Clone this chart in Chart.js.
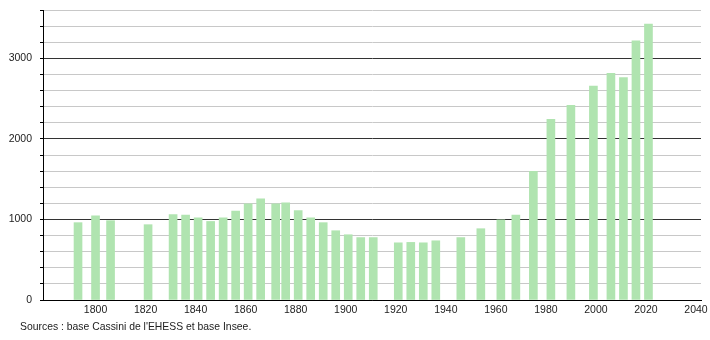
<!DOCTYPE html>
<html>
<head>
<meta charset="utf-8">
<script src="https://cdn.jsdelivr.net/npm/chart.js@4"></script>
<style>
  body { margin: 0; background: #fff; }
  #wrap { position: relative; width: 710px; height: 340px; }
  #source { position: absolute; left: 20px; top: 321px; font: 10.4px "Liberation Sans", Arial, sans-serif; color: #222; }
</style>
</head>
<body>
<div id="wrap">
  <canvas id="myChart" width="710" height="340"></canvas>
  <div id="source">Sources : base Cassini de l'EHESS et base Insee.</div>
</div>
<script>
// census years and population
var years = [1793, 1800, 1806, 1821, 1831, 1836, 1841, 1846, 1851, 1856, 1861, 1866, 1872, 1876, 1881, 1886, 1891, 1896, 1901, 1906, 1911, 1921, 1926, 1931, 1936, 1946, 1954, 1962, 1968, 1975, 1982, 1990, 1999, 2006, 2011, 2016, 2021];
var population = [960, 1045, 985, 935, 1060, 1055, 1020, 975, 1020, 1105, 1195, 1255, 1195, 1205, 1110, 1020, 960, 860, 810, 775, 775, 710, 715, 710, 735, 775, 885, 995, 1055, 1597, 2242, 2416, 2656, 2814, 2760, 3217, 3425];
var xTickLabels = [1800, 1820, 1840, 1860, 1880, 1900, 1920, 1940, 1960, 1980, 2000, 2020, 2040];
var yTickLabels = [0, 1000, 2000, 3000];

var points = years.map(function(y, i) {
    return { x: y, y: population[i] };
});

var font = { family: '"Liberation Sans", Arial, sans-serif', size: 10.5 };

var ctx = document.getElementById('myChart').getContext('2d');
var myChart = new Chart(ctx, {
    type: 'bar',
    data: {
        datasets: [{
            data: points,
            backgroundColor: '#b0e4b0',
            borderWidth: 0,
            barThickness: 8
        }]
    },
    options: {
        responsive: false,
        animation: false,
        layout: { autoPadding: false, padding: { top: 10, right: 9, left: 0, bottom: 0 } },
        plugins: { legend: { display: false }, tooltip: { enabled: false } },
        scales: {
            x: {
                type: 'linear',
                min: 1779,
                max: 2042,
                offset: false,
                grid: { display: false, drawTicks: false, offset: false },
                border: { color: '#000', width: 1 },
                ticks: {
                    stepSize: 20,
                    includeBounds: false,
                    autoSkip: false,
                    maxRotation: 0,
                    padding: 4,
                    color: '#222',
                    font: font,
                    callback: function(v) {
                        return xTickLabels.indexOf(v) >= 0 ? String(v) : '';
                    }
                },
                afterFit: function(scale) {
                    scale.height = 40;
                    scale.paddingLeft = 0;
                    scale.paddingRight = 0;
                }
            },
            y: {
                min: 0,
                max: 3600,
                grid: {
                    color: function(c) {
                        return c.tick && c.tick.value % 1000 === 0 ? '#333' : '#c8c8c8';
                    },
                    tickColor: '#000',
                    tickLength: 3,
                    lineWidth: 1
                },
                border: { color: '#000', width: 1 },
                ticks: {
                    stepSize: 200,
                    autoSkip: false,
                    padding: 8,
                    color: '#222',
                    font: font,
                    callback: function(v) {
                        return yTickLabels.indexOf(v) >= 0 ? String(v) : '';
                    }
                },
                afterFit: function(scale) {
                    scale.width = 43;
                    scale.paddingTop = 0;
                    scale.paddingBottom = 0;
                }
            }
        }
    }
});
</script>
</body>
</html>
